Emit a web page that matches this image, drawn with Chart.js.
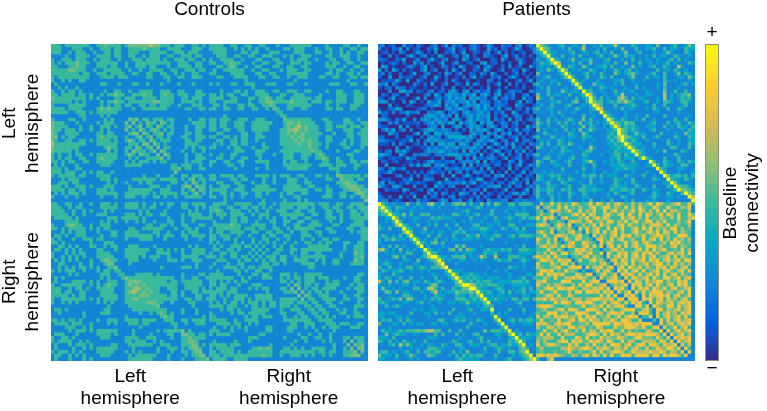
<!DOCTYPE html>
<html><head><meta charset="utf-8">
<script src="https://cdn.jsdelivr.net/npm/chart.js@4"></script>
<style>html,body{margin:0;padding:0;background:#fff;width:767px;height:411px;overflow:hidden}
canvas{position:absolute;top:0}</style></head><body>
<div style="position:absolute;left:0;top:0;width:368px;height:411px"><canvas id="c1"></canvas></div>
<div style="position:absolute;left:378px;top:0;width:317px;height:411px"><canvas id="c2"></canvas></div>
<div style="position:absolute;left:695px;top:0;width:72px;height:411px"><canvas id="c3"></canvas></div>
<script>
const panelTitles=["Controls","Patients"];
const hemisphereTicks=[["Left","hemisphere"],["Right","hemisphere"]];
const colorbarTitle=["Baseline","connectivity"];
const colorbarEnds=["+","\u2212"];
const levelValues=[0,.1,.17,.25,.37,.5,.58,.7,.83,1];
const parulaStops=["#352a87","#0363e1","#1485d4","#06a7c6","#38b99e","#92bf73","#d9ba56","#fcce2e","#f9fb0e"];
const controlsLL=["555355555553355655553566666676655535553355353","55333555335335553553355556555533555533355533","5335355533533553553355533355555335553555333","353355553355553553355335355533553355535533","55355533535553353335553555535335553553353","5565553355555533533555555555533555335533","565533355535533533555355333533555535533","55533533555553353353355553355335553553","3553355535555335533553355335353355333","553335555355533333553335533553355533","33333333333333333333333533333333333","3335533353335533533353333533353333","333333333333333333333333333333333","33533553353355553355533553335533","5355655335556553356553555335553","333553555335555355553355355533","55655355555556655553355553533","3553553355355355533533355533","553335335555555333335533553","33333333333333333333333333","3333333333333333333333333","365635535553553333533553","36353655365353333355553","3563553653553335335553","365356535353335335533","36535563553335535533","3563553533355335553","365355533335535533","36535333335555333","3635533335353553","365333353353353","36533335335533","3533335335553","333335355533","55355533533","5635533553","333333333","55355533","3563553","365353","36553","3653","353","33","3"];
const controlsLR=["555533553355335533353335555553333533335533533","555553353535353353333553555333533553353355355","355553333553553335553333555333553353353533553","335553355335533555333535335553333553355533533","533555533533355333553335355533533355335533533","553355655333533553355335553553333535533553355","335535653353355333553355335533333555335335533","353355555533533553335355533553333353553353353","553333555533355335533355555533333553533553533","335533355553335533553353355533355335533355355","333333333353333333333333533333333333333533333","535333553355533355533355333533333355533355335","333333333333533333333333333333333333333333333","333533355353355533553355533553333533553335533","553535533553355553335533555333353333555335553","555533553335535565355335555553553333555335553","553355553335335566555556555535553553555335553","355353335535533556533355555553333533533355533","553355335533553353653355335533333553553355333","333333333333333333355333333333333333333333333","333353333333333333335533333333333333333333333","553555335553355533333655555553335533335533533","553553355533555555333566565555333553335553355","553553355533555553333565675655533553555355535","553355335533555553335566765655533553335553355","335533333553355333335565656555553335333553555","553355353553355533335556566555533553333553355","335533553553353333335555656565533553335353355","353533553553333533335555565565553533355353355","553335355333533553333555555565533533335533353","333333355533355533335555555556553333533335533","533533553333355333533555335553565333333553333","335533533553335333333555335533556533533353333","553355335533355553333535533533335533553355355","533335533533333353333555555553355553555335533","333333353333353353333355555533333355533335333","333333333333333333333333333333333333533333333","553555535533355553535553355333553533665555535","553333553553333533533355533533333553365553553","335533355333533533533355533553333333556655333","533555335533355553333555553355333533355666553","555553355533555555533555555533553553335566655","533553533553355353335355335533333553355335665","553353533533355333335333553333335553355353365","333353333333333533333533353533333333333333336"];
const controlsRR=["355553355555335533535555555555355533553355553","55335533553553535335555355535335535533553555","6533555335353353355533553355333553553355355","553555533535553335555555335533553353355535","33553553335353533535533553333555353355555","3553553353335533553355335533353353335553","655333555533533533553355553335533355553","55355535533553353555555333553333553355","5533553355355335335533553355333353555","335333535533553335553353333333333355","33533553353353335335335535533333355","353535353353353355335355333553355","35353353533533335555553333533555","3535335533553555555555333533555","353355333533553355333335333655","35553553353555555533335333556","3553553355553353533553333655","355353333555533533553335555","33333333335533333333333333","3333333333333333333333333","555353355555333333333355","35355355535553333533553","3535355533353553333553","365355353355553335355","36353553555533353555","3635355353335333355","365335553333533553","35533555533553355","3553355335333353","355335533333555","35533353533533","3553335533553","353533353555","55333333333","5535553355","553335553","33333333","3333333","553555","36355","3656","366","36","3","3"];
const patientsLL=["230120041203100230140312002310142003120240132","01021403012002140012401202310041202101420013","2010320014201030021301400210230140201012003","301002410230104200130240100321002401301020","02140013002410230010420130002104100231001","1020041302001400230012003401201020041002","002310240100320104200130241002030120041","20100240130020410300210420013002104100","0140023001042013002103204100201302010","200130041020010302401002130024100201","03100120020310020010032010200130140","1020400130021040320020140030201004","010010200300102001030010200102001","02301203420340231230140023120032","3042034332423403420340213002301","023124243404342301402312004120","24033423342403320231200140320","3042340243342430232100421002","034234320342423140230120314","02320342234230213004201203","3040234243340202301320020","342034243240312040230132","04234304243013202301002","3024342034202301200413","204243420342021402310","03423042303240130201","4203420342012302014","034234202301402310","42301420314012032","3042013204120301","201430120314020","13024020130214","3201401230102","120032041002","20130240132","1040201203","302014023","10230120","2401301","120403","20132","1403","203","12","2"];
const patientsLR=["965433453344363343534474333543344363334533464","596533343533473334353343633353344533534433544","459544333453344345343533463345333433464333543","345943353343533334533464354433343534433543343","433595433463344533345333433534343343345353433","354469733343533633344353363435334343453433354","343435943543364334453533433634334533543374333","343643596343433543343354345343333353443543433","633333459533345343533364345643334533533463543","334533346953335333543533334633353443533344364","343344333495343334333344533433433333543433343","533343533359533364433343533343333343633334534","343533334335943433543433343353433343533343333","333533364344395533433353434433343333633533533","633534433533459743343344733343344333734345563","743353334335345953534336753534433343734345453","433344533356335965534546575433453343554335543","343353334533343597533353344543333533533334533","533443334335433459733343534433343543353354333","333343533343333433954333343333333343333343333","333343343333353343395433343343353333533333343","533534334543363533349643543343533433333533533","643533535343634534345965465533334533353453354","533433354333463543343596454543344433534354435","634334335343634643334459654543334533343334354","335433333543364333334549653464433335333433644","533354343443354433335457965443533453333543354","343433543433343343334546954543343333353343344","353533543643333433334454596444333533354343354","643334354333433743333445459643433433335533353","333343354433345533334354444965433343633335433","533433443343354333433455354495433333333543333","335533433453344333333445344435954333533353333","643354334533345743343435433533339533543354354","533334433533343353333444544443344953544335533","333333353333353343333344454433333395433344333","334343343334343343343343333433343339533343334","543454533433354553534443354333533433964554535","543343543543333533433354433533333543395443543","334533354333433533433354343543333333449643333","533544334533354443333454443354333533354965543","544553354533554454433544554533543443334596654","533543433543354343334354334533333543354335965","533353433533344333334333543333334543344343397","343353433433343633433533343533343433343333339"];
const patientsRR=["375585756587556858757578655757568587556785585","3675585856575578568857658575865587558655768","358775685585768558578575685875758585776557","573655578685875578657858658587568587585586","85378555768578687555867857585657657585578","565378775785675885768578568857685557568","87583557568586755785866575788758576557","5675385857855858685578586857675885756","578563857858578575578657868587585765","56785538576578587857685678867558885","5875653786585785675585785857586757","558765385875568578578655675878656","57858583785858578658886755785765","8675535578675557858586785565857","785583865878578587867557867858","57653857868578685785678585765","8675378587586785878578678588","578538678585678578857586757","85783785876857658785875785","7853868578585678578657858","568387875857868585785765","78538587678586588678578","8783858758678857658785","678387857858657858785","85385878587685785678","7838585788857657858","785385878878578568","88387857858675785","7853858767857878","858387658858678","78538857678578","8538578675878","838578678585","53858578678","3857857878","385685785","38578678","3857857","387878","38678","3857","385","38","3","3"];
const colorbarSteps=[0,.02,.04,.06,.08,.1,.12,.14,.16,.18,.2,.22,.24,.26,.28,.3,.32,.34,.36,.38,.4,.42,.44,.46,.48,.5,.52,.54,.56,.58,.6,.62,.64,.66,.68,.7,.72,.74,.76,.78,.8,.82,.84,.86,.88,.9,.92,.94,.96,.98];
const fontFamily='"Liberation Sans",Arial,sans-serif';
const fontSize=19;
const N=90,H=45;
function parula(v){const p=Math.max(0,Math.min(.9999,v))*(parulaStops.length-1),i=Math.floor(p),f=p-i;
 const h=s=>[1,3,5].map(k=>parseInt(s.substr(k,2),16));const a=h(parulaStops[i]),b=h(parulaStops[i+1]);
 return 'rgb('+a.map((c,k)=>Math.round(c+(b[k]-c)*f)).join(',')+')';}
function buildCells(LL,LR,RR){const pts=[];const lv=d=>levelValues[d===undefined?3:+d];
 const add=(r,c,d)=>{pts.push({x:c+.5,y:r+.5,v:lv(d)});if(r!==c)pts.push({x:r+.5,y:c+.5,v:lv(d)});};
 for(let r=0;r<H;r++)for(let c=r;c<H;c++)add(r,c,LL[r][c-r]);
 for(let r=0;r<H;r++)for(let c=0;c<H;c++)add(r,c+H,LR[r][c]);
 for(let r=0;r<H;r++)for(let c=r;c<H;c++)add(r+H,c+H,RR[r][c-r]);
 return pts;}
function vText(c,t,x,y){c.save();c.translate(x,y);c.rotate(-Math.PI/2);c.fillText(t,0,0);c.restore();}
function textStyle(c){c.fillStyle='#000';c.font=fontSize+'px '+fontFamily;c.textAlign='center';c.textBaseline='middle';}
function heatmap(id,title,cells,padLeft,withY){
 const yPlugin={id:'yHemis',afterDraw(ch){if(!withY)return;const y=ch.scales.y,c=ch.ctx;c.save();textStyle(c);
   hemisphereTicks.forEach((lines,k)=>{const px=y.getPixelForValue(k?3*N/4:N/4);vText(c,lines[0],10,px);vText(c,lines[1],33,px);});c.restore();}};
 const cfg={type:'scatter',data:{datasets:[{data:cells,pointStyle:'rect',pointRadius:2.95,pointHoverRadius:2.95,pointBorderWidth:0,
   backgroundColor:c=>parula(c.raw?c.raw.v:0),borderWidth:0,clip:0}]},
  options:{responsive:false,animation:false,events:[],layout:{autoPadding:false,padding:{left:padLeft,right:0,top:0,bottom:0}},
   plugins:{legend:{display:false},tooltip:{enabled:false},
    title:{display:true,text:title,color:'#000',font:{family:fontFamily,size:fontSize,weight:'normal',lineHeight:1},padding:{top:0,bottom:25}}},
   scales:{x:{type:'linear',min:0,max:N,border:{display:false},grid:{display:false,drawTicks:false},
     afterBuildTicks:s=>{s.ticks=[{value:N/4},{value:3*N/4}];},
     afterFit:s=>{s.height=50;},
     ticks:{autoSkip:false,maxRotation:0,minRotation:0,padding:4,color:'#000',font:{family:fontFamily,size:fontSize},
      callback:(v,i)=>hemisphereTicks[i]}},
    y:{type:'linear',min:0,max:N,reverse:true,display:false}}},
  plugins:[yPlugin]};
 const cv=document.getElementById(id);cv.width=cv.parentNode.clientWidth;cv.height=411;return new Chart(cv,cfg);}
heatmap('c1',panelTitles[0],buildCells(controlsLL,controlsLR,controlsRR),51,true);
heatmap('c2',panelTitles[1],buildCells(patientsLL,patientsLR,patientsRR),0,false);
const cv3=document.getElementById('c3');cv3.width=72;cv3.height=411;
new Chart(cv3,{type:'bar',data:{labels:colorbarSteps,datasets:[{data:colorbarSteps.map(()=>1),backgroundColor:colorbarSteps.map(v=>parula(v+.01)),barPercentage:1,categoryPercentage:1,borderWidth:0}]},
 options:{indexAxis:'y',responsive:false,animation:false,events:[],layout:{autoPadding:false,padding:{left:10,right:48,top:44,bottom:50}},
  plugins:{legend:{display:false},tooltip:{enabled:false}},
  scales:{x:{display:false,min:0,max:1},y:{display:false,reverse:true,labels:colorbarSteps.slice().reverse()}}},
 plugins:[{id:'barFrame',afterDraw(ch){const a=ch.chartArea,c=ch.ctx;c.save();c.strokeStyle='#8f8f7a';c.lineWidth=1;c.strokeRect(a.left+.5,a.top+.5,a.width-1,a.height-1);
   textStyle(c);
   c.fillText(colorbarEnds[0],(a.left+a.right)/2,33);c.fillText(colorbarEnds[1],(a.left+a.right)/2,369);
   vText(c,colorbarTitle[0],36,203);vText(c,colorbarTitle[1],58,203);c.restore();}}]});
</script></body></html>
